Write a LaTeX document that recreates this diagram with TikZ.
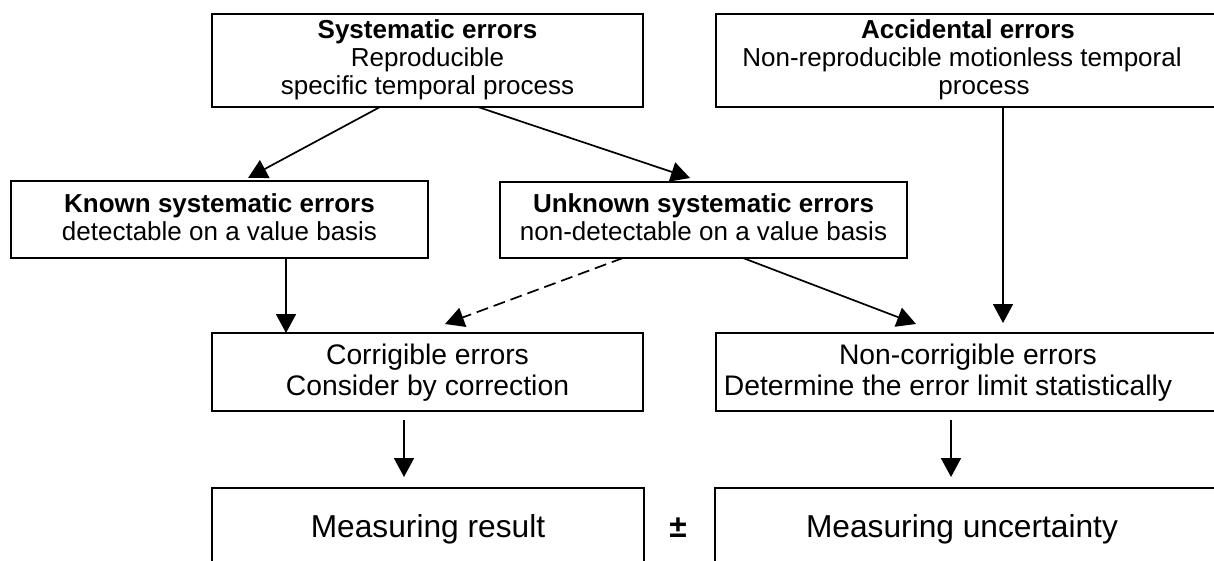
\documentclass[tikz,border=0pt]{standalone}
\usepackage{fontspec}
\setmainfont{Liberation Sans}
\usetikzlibrary{arrows.meta}
\begin{document}
\begin{tikzpicture}[x=1pt,y=-1pt,
  box/.style={draw, line width=2.6pt, rectangle, inner sep=0pt, outer sep=0pt, anchor=north west},
  arr/.style={line width=1.7pt, -{Triangle[width=20pt,length=19pt]}},
  dsh/.style={arr, dash pattern=on 12pt off 6pt},
  ta/.style={font=\fontsize{26}{30}\selectfont, anchor=base, inner sep=0pt},
  tb/.style={font=\fontsize{28.3}{32}\selectfont, anchor=base, inner sep=0pt},
  tc/.style={font=\fontsize{31.7}{36}\selectfont, anchor=base, inner sep=0pt}]
\useasboundingbox (0,0) rectangle (1214,560);
\clip (0,0) rectangle (1214,560);
\fill[white] (0,0) rectangle (1214,560);
% boxes
\node[box, minimum width=431pt, minimum height=93pt] (sys) at (212,14) {};
\node[box, minimum width=520pt, minimum height=93pt] (acc) at (716,14) {};
\node[box, minimum width=417pt, minimum height=77pt] (known) at (11,181) {};
\node[box, minimum width=407pt, minimum height=76pt] (unknown) at (500,182) {};
\node[box, minimum width=431pt, minimum height=78pt] (corr) at (212,333) {};
\node[box, minimum width=520pt, minimum height=78pt] (noncorr) at (716,333) {};
\node[box, minimum width=432pt, minimum height=120pt] (res) at (212,488) {};
\node[box, minimum width=520pt, minimum height=120pt] (unc) at (715,488) {};
% texts
\node[ta] (s1) at (427.5,38) {\textbf{Systematic errors}};
\node[ta] (s2) at (427.5,66) {Reproducible};
\node[ta] (s3) at (427.5,94) {specific temporal process};
\node[ta] (a1) at (968,38) {\textbf{Accidental errors}};
\node[ta] (a2) at (962,66) {Non-reproducible motionless temporal};
\node[ta] (a3) at (984,94) {process};
\node[ta] (k1) at (219.5,212) {\textbf{Known systematic errors}};
\node[ta] (k2) at (219.5,240) {detectable on a value basis};
\node[ta] (u1) at (703.5,212) {\textbf{Unknown systematic errors}};
\node[ta] (u2) at (703.5,240) {non-detectable on a value basis};
\node[tb] (c1) at (427.5,364) {Corrigible errors};
\node[tb] (c2) at (427.5,395) {Consider by correction};
\node[tb] (n1) at (968,364) {Non-corrigible errors};
\node[tb] (n2) at (948,395) {Determine the error limit statistically};
\node[tc] (r1) at (428,537) {Measuring result};
\node[tc] (pm) at (678,537) {\textbf{±}};
\node[tc] (m1) at (962,537) {Measuring uncertainty};
% connectors
\draw[arr] ([xshift=168pt]sys.south west) -- ([xshift=237pt,yshift=3pt]known.north west);
\draw[arr] ([xshift=266pt]sys.south west) -- ([xshift=190pt,yshift=4pt]unknown.north west);
\draw[arr] ([xshift=287pt]acc.south west) -- ([xshift=287pt,yshift=10pt]noncorr.north west);
\draw[arr] ([xshift=275pt]known.south west) -- ([xshift=74pt]corr.north west);
\draw[dsh] ([xshift=123pt]unknown.south west) -- ([xshift=233pt,yshift=9pt]corr.north west);
\draw[arr] ([xshift=243pt]unknown.south west) -- ([xshift=200pt,yshift=9pt]noncorr.north west);
\draw[arr] ([xshift=192pt,yshift=-9pt]corr.south west) -- ([xshift=192pt,yshift=11pt]res.north west);
\draw[arr] ([xshift=235pt,yshift=-9pt]noncorr.south west) -- ([xshift=236pt,yshift=11pt]unc.north west);
\end{tikzpicture}
\end{document}
